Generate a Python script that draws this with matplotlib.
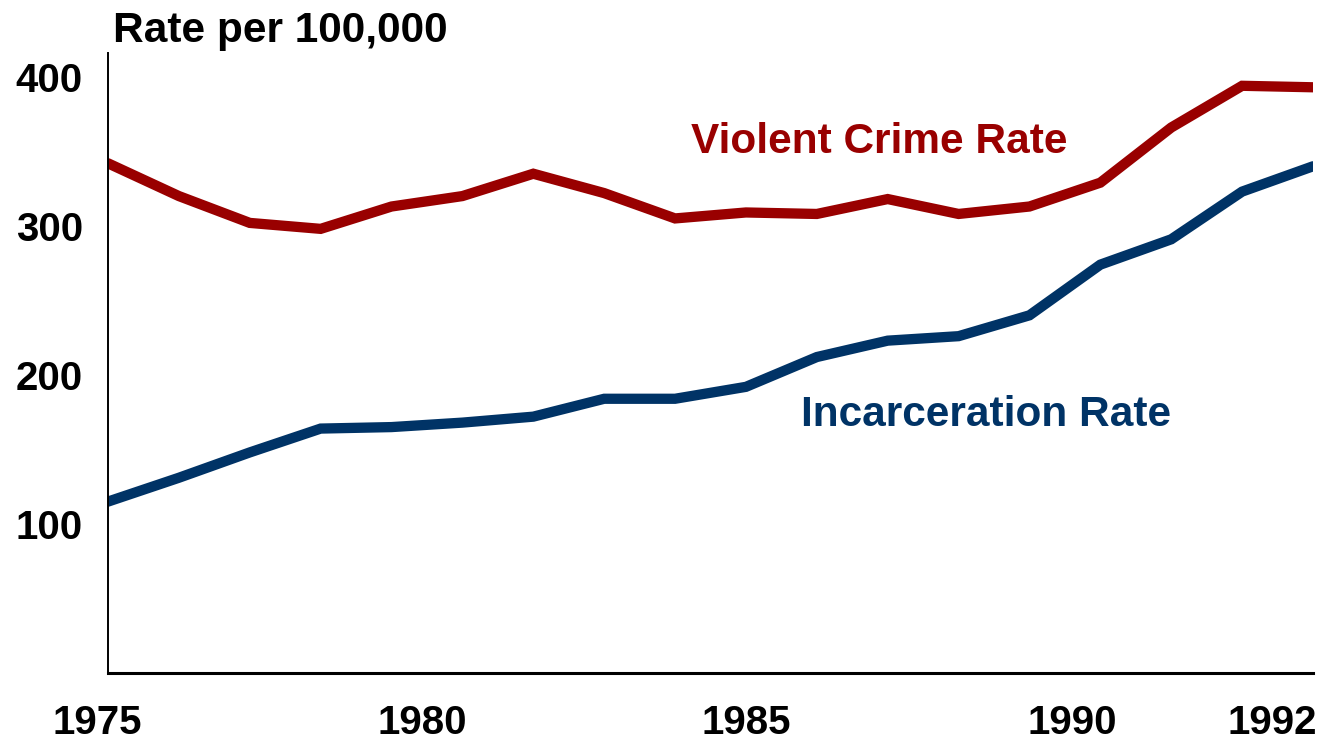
import matplotlib
matplotlib.use('Agg')
import matplotlib.pyplot as plt

# data (rate per 100,000)
years = list(range(1975, 1993))
violent = [342, 320, 302, 298, 313, 320, 335, 322, 305, 309,
           308, 318, 308, 313, 329, 366, 394, 393]
incarceration = [115, 131, 148, 164, 165, 168, 172, 184, 184, 192,
                 212, 223, 226, 240, 274, 291, 323, 340]

ytick_vals = [100, 200, 300, 400]
xtick_labels = ['1975', '1980', '1985', '1990', '1992']
# the original labels are hand placed, not centred on their years
xtick_pos = [1974.85, 1979.43, 1984.0, 1988.6, 1991.42]

red = '#990000'
blue = '#003366'

plt.rcParams['font.family'] = ['Liberation Sans', 'DejaVu Sans']
plt.rcParams['font.weight'] = 'bold'

W, H = 1322, 743
fig = plt.figure(figsize=(W / 100, H / 100), dpi=100)
ax = fig.add_axes([108 / W, 70 / H, (1313 - 108) / W, (673 - 53) / H])

ax.plot(years, violent, color=red, lw=7.4, solid_capstyle='round', solid_joinstyle='miter')
ax.plot(years, incarceration, color=blue, lw=7.4, solid_capstyle='round', solid_joinstyle='miter')

ax.set_xlim(1975, 1992)
ax.set_ylim(0, 416)

ax.set_yticks(ytick_vals)
ax.set_yticklabels([str(v) for v in ytick_vals], fontsize=29, fontweight='bold')
ax.tick_params(axis='y', length=0, pad=18)

# year labels as text, the first one sits just left of the axis
ax.set_xticks([])
for xp, lab in zip(xtick_pos, xtick_labels):
    ax.text(xp, -(734 - 673) / 620, lab, transform=ax.get_xaxis_transform(),
            fontsize=29, fontweight='bold', ha='center', va='baseline', clip_on=False)

for s in ['top', 'right']:
    ax.spines[s].set_visible(False)
ax.spines['left'].set_linewidth(1.4)
ax.spines['bottom'].set_linewidth(2.2)
ax.spines['left'].set_capstyle('projecting')

ax.text(1985.88, 349, 'Violent Crime Rate', color=red, fontsize=30.5,
        fontweight='bold', ha='center', va='baseline')
ax.text(1987.39, 166, 'Incarceration Rate', color=blue, fontsize=30.5,
        fontweight='bold', ha='center', va='baseline')

fig.text(113 / W, (H - 42) / H, 'Rate per 100,000', fontsize=30.5,
         fontweight='bold', ha='left', va='baseline')

fig.savefig('out.png', dpi=100)
